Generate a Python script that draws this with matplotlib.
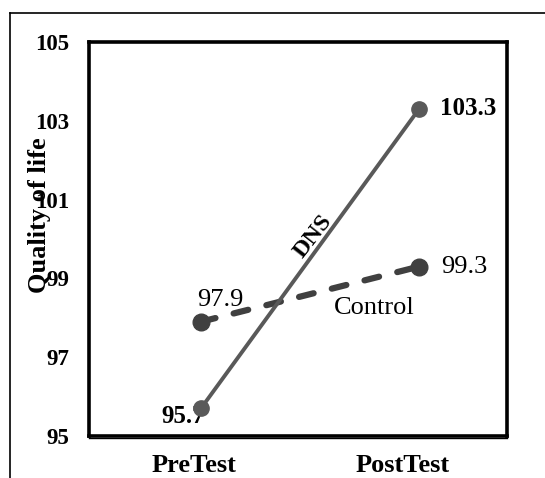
import matplotlib
matplotlib.use('Agg')
import matplotlib.pyplot as plt
from matplotlib.lines import Line2D

plt.rcParams['font.family'] = ['Liberation Serif', 'DejaVu Serif']

# data
categories = ['PreTest', 'PostTest']
dns = [95.7, 103.3]
control = [97.9, 99.3]
yticks = [95, 97, 99, 101, 103, 105]

fig = plt.figure(figsize=(5.45, 4.78), dpi=100)
ax = fig.add_axes([89/545, 42/478, 418/545, 394/478])

xs = list(range(len(categories)))

# lines
ax.plot(xs, control, color='#404040', lw=4.5, linestyle=(0, (2.4, 3.0)),
        dash_capstyle='round', marker='o', ms=12, zorder=3)
ax.plot(xs, dns, color='#595959', lw=2.8, marker='o', ms=11, zorder=4)

xlim = (-0.513, 1.403)
ax.set_xlim(*xlim)
ax.set_ylim(95, 105)
# category labels sit at the quarter points of the box
ticks_x = [xlim[0] + f * (xlim[1] - xlim[0]) for f in (0.25, 0.75)]
ax.set_xticks(ticks_x)
ax.set_xticklabels(categories, fontsize=19, fontweight='bold')
ax.set_yticks(yticks)
ax.set_yticklabels([str(v) for v in yticks], fontsize=16.5, fontweight='bold')
ax.tick_params(axis='both', length=0)
ax.tick_params(axis='y', pad=14)
ax.tick_params(axis='x', pad=13)

for s in ax.spines.values():
    s.set_linewidth(2.6)
    s.set_color('black')

# double line at the bottom of the box
ax.add_line(Line2D([0, 1], [-0.006, -0.006], transform=ax.transAxes,
                   color='black', lw=1.0, clip_on=False))

# value labels
ax.annotate(f'{dns[1]:.1f}', xy=(xs[1], dns[1]), xytext=(15, 0),
            textcoords='offset points', ha='left', va='center',
            fontsize=18, fontweight='bold')
ax.annotate(f'{dns[0]:.1f}', xy=(xs[0], dns[0]), xytext=(-13, -6),
            textcoords='offset points', ha='center', va='center',
            fontsize=18, fontweight='bold')
ax.annotate(f'{control[0]:.1f}', xy=(xs[0], control[0]), xytext=(14, 16),
            textcoords='offset points', ha='center', va='center', fontsize=19)
ax.annotate(f'{control[1]:.1f}', xy=(xs[1], control[1]), xytext=(16, 0),
            textcoords='offset points', ha='left', va='center', fontsize=19)

# series labels
ax.annotate('Control', xy=(xs[1], control[1]), xytext=(-32, -30),
            textcoords='offset points', ha='center', va='center', fontsize=19)
mid_x = (xs[0] + xs[1]) / 2
mid_y = (dns[0] + dns[1]) / 2
ax.annotate('DNS', xy=(mid_x, mid_y), xytext=(2, 16),
            textcoords='offset points', ha='center', va='center',
            fontsize=17.5, fontweight='bold', rotation=52)

fig.text(40/545, 1 - 215/478, 'Quality of life', rotation=90, ha='center',
         va='center', fontsize=19, fontweight='bold')

# outer chart frame
fig.add_artist(Line2D([10/545, 10/545], [0, 1 - 13/478], color='black', lw=1.2))
fig.add_artist(Line2D([10/545, 1], [1 - 13/478, 1 - 13/478], color='black', lw=1.2))

fig.savefig('out.png', dpi=100)
